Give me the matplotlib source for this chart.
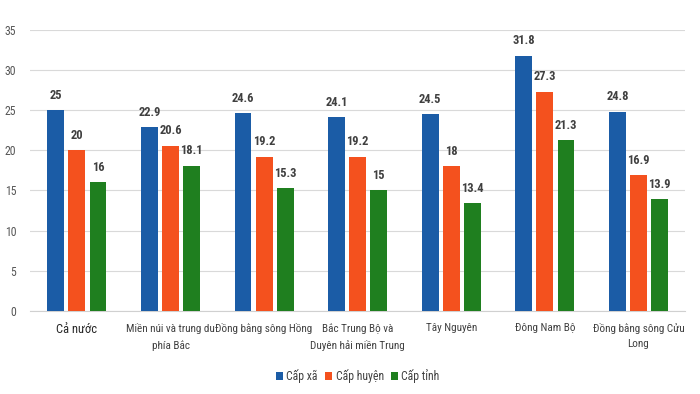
import matplotlib.pyplot as plt
import numpy as np

plt.rcParams['font.family'] = ['Liberation Sans Narrow', 'Roboto Condensed', 'DejaVu Sans']

regions = ["Cả nước", "Miền núi và trung du\nphía Bắc", "Đồng bằng sông Hồng",
           "Bắc Trung Bộ và\nDuyên hải miền Trung", "Tây Nguyên", "Đông Nam Bộ",
           "Đồng bằng sông Cửu\nLong"]
cap_xa = [25, 22.9, 24.6, 24.1, 24.5, 31.8, 24.8]
cap_huyen = [20, 20.6, 19.2, 19.2, 18, 27.3, 16.9]
cap_tinh = [16, 18.1, 15.3, 15, 13.4, 21.3, 13.9]
series_names = ["Cấp xã", "Cấp huyện", "Cấp tỉnh"]
colors = ["#1B5CA6", "#F4511E", "#1F7F1F"]

fig = plt.figure(figsize=(7, 3.94), dpi=100)
ax = fig.add_axes([0.043, 0.211, 0.936, 0.713])

x = np.arange(len(regions))
w = 0.18
step = 0.225
for i, (vals, name) in enumerate(zip([cap_xa, cap_huyen, cap_tinh], series_names)):
    bars = ax.bar(x + (i - 1) * step, vals, w, color=colors[i], label=name, zorder=3)
    for b, v in zip(bars, vals):
        ax.annotate(f"{v:g}", (b.get_x() + b.get_width() / 2, v), xytext=(0, 6),
                    textcoords="offset points", ha="center", va="bottom",
                    fontsize=9, fontweight="bold", color="#404040")

ax.set_xlim(-0.5, len(regions) - 0.5)
ax.set_ylim(0, 35)
ax.set_yticks(range(0, 36, 5))
ax.set_xticks(x)
ax.set_xticklabels(regions, fontsize=8, color="#404040", linespacing=1.6)
first = ax.get_xticklabels()[0]
first.set_fontsize(9)
first.set_color("#262626")
ax.tick_params(axis="y", labelsize=8.5, labelcolor="#555555", length=0, pad=10)
ax.tick_params(axis="x", length=0, pad=9)
ax.grid(axis="y", color="#d9d9d9", linewidth=0.8, zorder=0)
for s in ["top", "right", "left"]:
    ax.spines[s].set_visible(False)
ax.spines["bottom"].set_color("#d0d0d0")

ax.legend(loc="upper center", bbox_to_anchor=(0.5, -0.17), ncol=3, frameon=False,
          fontsize=8.5, handlelength=0.6, handleheight=0.6, columnspacing=0.6,
          handletextpad=0.3, labelcolor="#404040")

fig.savefig("out.png", dpi=100)
